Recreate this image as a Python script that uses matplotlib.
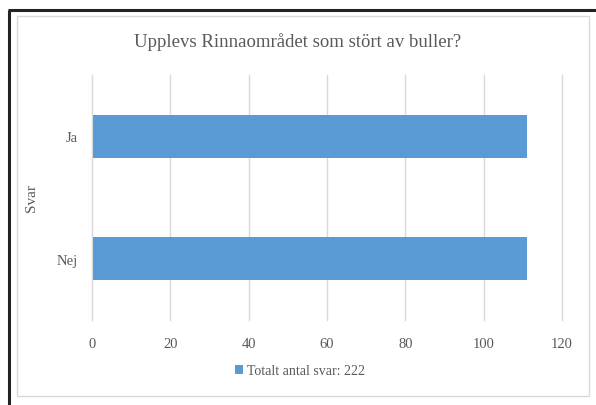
import matplotlib.pyplot as plt
from matplotlib.lines import Line2D
from matplotlib.patches import Rectangle

CATEGORIES = ['Nej', 'Ja']
VALUES = [111, 111]
X_TICKS = [0, 20, 40, 60, 80, 100, 120]
TITLE = 'Upplevs Rinnaområdet som stört av buller?'
LEGEND_LABEL = 'Totalt antal svar: 222'

BAR_COLOR = '#5B9BD5'
TEXT_COLOR = '#595959'
GRID_COLOR = '#D9D9D9'
W, H = 596, 406

plt.rcParams['font.family'] = ['Liberation Serif', 'DejaVu Serif']

fig = plt.figure(figsize=(W / 100, H / 100), dpi=100, facecolor='white', edgecolor='white')

# black frame on left and top only
fig.lines.append(Line2D([9 / W, 9 / W], [0, (H - 11) / H], transform=fig.transFigure,
                        color='#222222', linewidth=2.2, solid_capstyle='butt'))
fig.lines.append(Line2D([8 / W, 1], [(H - 11) / H, (H - 11) / H], transform=fig.transFigure,
                        color='#222222', linewidth=2.2, solid_capstyle='butt'))
# light grey chart border
fig.patches.append(Rectangle((17 / W, (H - 397) / H), (589 - 17) / W, (397 - 17) / H,
                             transform=fig.transFigure, fill=False,
                             edgecolor='#D9D9D9', linewidth=1))

ax = fig.add_axes([92 / W, (H - 321) / H, (562 - 92) / W, (321 - 76) / H])
ax.barh(CATEGORIES, VALUES, height=0.35, color=BAR_COLOR, label=LEGEND_LABEL)
ax.set_xlim(0, 120)
ax.set_ylim(-0.5, 1.5)
ax.set_xticks(X_TICKS)
ax.grid(axis='x', color=GRID_COLOR, linewidth=1)
for gl in ax.get_xgridlines():
    gl.set_clip_on(False)
ax.set_axisbelow(True)
for side in ['top', 'right', 'bottom']:
    ax.spines[side].set_visible(False)
ax.spines['left'].set_color(GRID_COLOR)
ax.tick_params(length=0, colors=TEXT_COLOR, labelsize=10.5)
ax.tick_params(axis='x', pad=12)
ax.tick_params(axis='y', pad=10)
ax.set_ylabel('Svar', color=TEXT_COLOR, fontsize=11, labelpad=14)

fig.text(0.5, (H - 42) / H, TITLE, ha='center', va='center', color=TEXT_COLOR, fontsize=13.5)
fig.legend(loc='center', bbox_to_anchor=(300 / W, (H - 372) / H), frameon=False,
           fontsize=10, labelcolor=TEXT_COLOR, handlelength=0.6, handleheight=0.6,
           handletextpad=0.3)

fig.savefig('out.png', dpi=100, facecolor='white', edgecolor='white')
